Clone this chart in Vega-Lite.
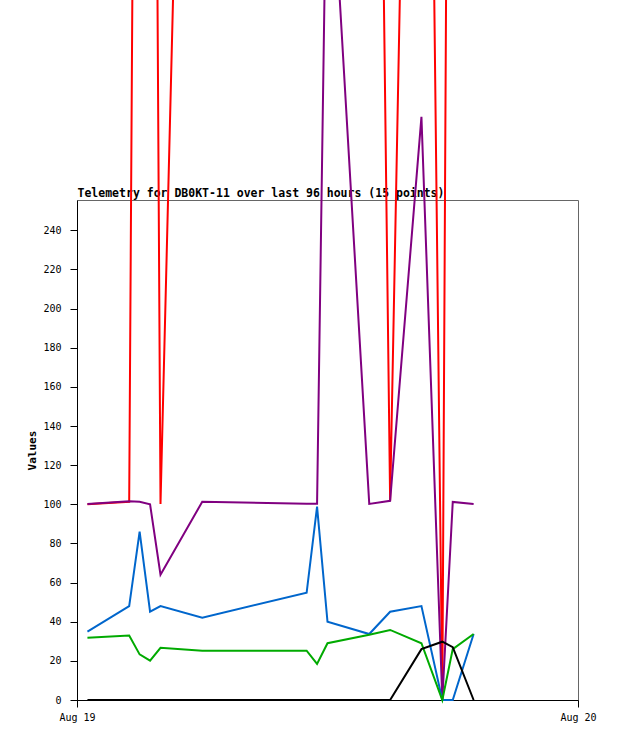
{
  "$schema": "https://vega.github.io/schema/vega-lite/v6.json",
  "width": 501,
  "height": 500,
  "autosize": {"type": "none"},
  "padding": {"left": 77, "top": 200, "right": 40, "bottom": 41},
  "background": "white",
  "config": {
    "view": {"stroke": "#666666", "strokeWidth": 1},
    "axis": {
      "grid": false,
      "domainColor": "black",
      "tickColor": "black",
      "tickSize": 7,
      "labelColor": "black",
      "labelFont": "DejaVu Sans Mono",
      "labelFontSize": 10,
      "titleColor": "black"
    }
  },
  "data": {
    "values": [
      {"time": "2024-08-19T00:30:00Z", "channel": "A1", "value": 100},
      {"time": "2024-08-19T02:30:00Z", "channel": "A1", "value": 101.3},
      {"time": "2024-08-19T03:00:00Z", "channel": "A1", "value": 955},
      {"time": "2024-08-19T03:30:00Z", "channel": "A1", "value": 1000},
      {"time": "2024-08-19T04:00:00Z", "channel": "A1", "value": 100.2},
      {"time": "2024-08-19T06:00:00Z", "channel": "A1", "value": 960},
      {"time": "2024-08-19T11:00:00Z", "channel": "A1", "value": 960},
      {"time": "2024-08-19T11:30:00Z", "channel": "A1", "value": 960},
      {"time": "2024-08-19T12:00:00Z", "channel": "A1", "value": 960},
      {"time": "2024-08-19T14:00:00Z", "channel": "A1", "value": 960},
      {"time": "2024-08-19T15:00:00Z", "channel": "A1", "value": 101.8},
      {"time": "2024-08-19T16:30:00Z", "channel": "A1", "value": 930},
      {"time": "2024-08-19T17:30:00Z", "channel": "A1", "value": 0},
      {"time": "2024-08-19T18:00:00Z", "channel": "A1", "value": 1000},
      {"time": "2024-08-19T19:00:00Z", "channel": "A1", "value": 1000},

      {"time": "2024-08-19T00:30:00Z", "channel": "A2", "value": 100.2},
      {"time": "2024-08-19T02:30:00Z", "channel": "A2", "value": 101.5},
      {"time": "2024-08-19T03:00:00Z", "channel": "A2", "value": 101.3},
      {"time": "2024-08-19T03:30:00Z", "channel": "A2", "value": 100},
      {"time": "2024-08-19T04:00:00Z", "channel": "A2", "value": 64},
      {"time": "2024-08-19T06:00:00Z", "channel": "A2", "value": 101.3},
      {"time": "2024-08-19T11:00:00Z", "channel": "A2", "value": 100.3},
      {"time": "2024-08-19T11:30:00Z", "channel": "A2", "value": 100.3},
      {"time": "2024-08-19T12:00:00Z", "channel": "A2", "value": 465},
      {"time": "2024-08-19T14:00:00Z", "channel": "A2", "value": 100.2},
      {"time": "2024-08-19T15:00:00Z", "channel": "A2", "value": 101.8},
      {"time": "2024-08-19T16:30:00Z", "channel": "A2", "value": 298},
      {"time": "2024-08-19T17:30:00Z", "channel": "A2", "value": 0},
      {"time": "2024-08-19T18:00:00Z", "channel": "A2", "value": 101.2},
      {"time": "2024-08-19T19:00:00Z", "channel": "A2", "value": 100.2},

      {"time": "2024-08-19T00:30:00Z", "channel": "A3", "value": 34.9},
      {"time": "2024-08-19T02:30:00Z", "channel": "A3", "value": 48},
      {"time": "2024-08-19T03:00:00Z", "channel": "A3", "value": 86},
      {"time": "2024-08-19T03:30:00Z", "channel": "A3", "value": 45.1},
      {"time": "2024-08-19T04:00:00Z", "channel": "A3", "value": 48},
      {"time": "2024-08-19T06:00:00Z", "channel": "A3", "value": 42.1},
      {"time": "2024-08-19T11:00:00Z", "channel": "A3", "value": 54.8},
      {"time": "2024-08-19T11:30:00Z", "channel": "A3", "value": 98.8},
      {"time": "2024-08-19T12:00:00Z", "channel": "A3", "value": 40},
      {"time": "2024-08-19T14:00:00Z", "channel": "A3", "value": 33.7},
      {"time": "2024-08-19T15:00:00Z", "channel": "A3", "value": 45.1},
      {"time": "2024-08-19T16:30:00Z", "channel": "A3", "value": 48},
      {"time": "2024-08-19T17:30:00Z", "channel": "A3", "value": 0},
      {"time": "2024-08-19T18:00:00Z", "channel": "A3", "value": 0},
      {"time": "2024-08-19T19:00:00Z", "channel": "A3", "value": 33.7},

      {"time": "2024-08-19T00:30:00Z", "channel": "A4", "value": 31.8},
      {"time": "2024-08-19T02:30:00Z", "channel": "A4", "value": 32.9},
      {"time": "2024-08-19T03:00:00Z", "channel": "A4", "value": 23.3},
      {"time": "2024-08-19T03:30:00Z", "channel": "A4", "value": 20.1},
      {"time": "2024-08-19T04:00:00Z", "channel": "A4", "value": 26.7},
      {"time": "2024-08-19T06:00:00Z", "channel": "A4", "value": 25.2},
      {"time": "2024-08-19T11:00:00Z", "channel": "A4", "value": 25.2},
      {"time": "2024-08-19T11:30:00Z", "channel": "A4", "value": 18.4},
      {"time": "2024-08-19T12:00:00Z", "channel": "A4", "value": 29},
      {"time": "2024-08-19T14:00:00Z", "channel": "A4", "value": 33.3},
      {"time": "2024-08-19T15:00:00Z", "channel": "A4", "value": 35.8},
      {"time": "2024-08-19T16:30:00Z", "channel": "A4", "value": 29},
      {"time": "2024-08-19T17:30:00Z", "channel": "A4", "value": 0},
      {"time": "2024-08-19T18:00:00Z", "channel": "A4", "value": 26},
      {"time": "2024-08-19T19:00:00Z", "channel": "A4", "value": 33.7},

      {"time": "2024-08-19T00:30:00Z", "channel": "A5", "value": 0},
      {"time": "2024-08-19T02:30:00Z", "channel": "A5", "value": 0},
      {"time": "2024-08-19T03:00:00Z", "channel": "A5", "value": 0},
      {"time": "2024-08-19T03:30:00Z", "channel": "A5", "value": 0},
      {"time": "2024-08-19T04:00:00Z", "channel": "A5", "value": 0},
      {"time": "2024-08-19T06:00:00Z", "channel": "A5", "value": 0},
      {"time": "2024-08-19T11:00:00Z", "channel": "A5", "value": 0},
      {"time": "2024-08-19T11:30:00Z", "channel": "A5", "value": 0},
      {"time": "2024-08-19T12:00:00Z", "channel": "A5", "value": 0},
      {"time": "2024-08-19T14:00:00Z", "channel": "A5", "value": 0},
      {"time": "2024-08-19T15:00:00Z", "channel": "A5", "value": 0},
      {"time": "2024-08-19T16:30:00Z", "channel": "A5", "value": 26},
      {"time": "2024-08-19T17:30:00Z", "channel": "A5", "value": 29.8},
      {"time": "2024-08-19T18:00:00Z", "channel": "A5", "value": 27},
      {"time": "2024-08-19T19:00:00Z", "channel": "A5", "value": 0}
    ]
  },
  "mark": {"type": "line", "strokeWidth": 2, "clip": false},
  "encoding": {
    "x": {
      "field": "time",
      "type": "temporal",
      "scale": {
        "type": "utc",
        "domain": [
          {"year": 2024, "month": 8, "date": 19, "utc": true},
          {"year": 2024, "month": 8, "date": 20, "utc": true}
        ]
      },
      "axis": {
        "title": "Telemetry for DB0KT-11 over last 96 hours (15 points)",
        "titleFont": "DejaVu Sans Mono",
        "titleFontWeight": "bold",
        "titleFontSize": 11.5,
        "titleX": 0,
        "titleY": -504,
        "titleAlign": "left",
        "titleBaseline": "alphabetic",
        "titleAngle": 0,
        "format": "%b %d",
        "labelFlush": false,
        "labelPadding": 5,
        "values": [
          {"year": 2024, "month": 8, "date": 19, "utc": true},
          {"year": 2024, "month": 8, "date": 20, "utc": true}
        ]
      }
    },
    "y": {
      "field": "value",
      "type": "quantitative",
      "scale": {"domain": [0, 255.5], "nice": false, "clamp": false},
      "axis": {
        "title": "Values",
        "titleFont": "DejaVu Sans Mono",
        "titleFontWeight": "bold",
        "titleFontSize": 11,
        "titleX": -45,
        "titleY": 250,
        "titleAngle": 270,
        "titleAlign": "center",
        "titleBaseline": "middle",
        "labelPadding": 9,
        "values": [0, 20, 40, 60, 80, 100, 120, 140, 160, 180, 200, 220, 240]
      }
    },
    "color": {
      "field": "channel",
      "type": "nominal",
      "scale": {
        "domain": ["A1", "A2", "A3", "A4", "A5"],
        "range": ["#ff0000", "#800080", "#0066cc", "#00aa00", "#000000"]
      },
      "legend": null
    }
  }
}
